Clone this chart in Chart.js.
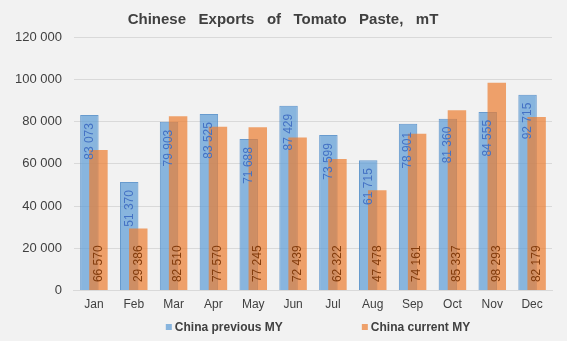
<!DOCTYPE html>
<html>
<head>
<meta charset="utf-8">
<title>Chinese Exports of Tomato Paste</title>
<script src="https://cdn.jsdelivr.net/npm/chart.js@4.4.1/dist/chart.umd.min.js"></script>
<style>
    html, body { margin: 0; padding: 0; background: #f2f2f2; }
</style>
</head>
<body>
<canvas id="exportsChart" width="567" height="341"></canvas>
<script>
// Data
const months = ['Jan', 'Feb', 'Mar', 'Apr', 'May', 'Jun', 'Jul', 'Aug', 'Sep', 'Oct', 'Nov', 'Dec'];
const previousMY = [83073, 51370, 79903, 83525, 71688, 87429, 73599, 61715, 78901, 81360, 84555, 92715];
const currentMY = [66570, 29386, 82510, 77570, 77245, 72439, 62322, 47478, 74161, 85337, 98293, 82179];
const seriesNames = ['China previous MY', 'China current MY'];
const yMax = 120000;
const yStep = 20000;

const FONT = '"Liberation Sans", Arial, sans-serif';
const TEXT = '#404040';

// 83073 -> "83 073"
const fmt = v => String(v).replace(/\B(?=(\d{3})+(?!\d))/g, ' ');

const excelStyle = {
    id: 'excelStyle',
    beforeDraw(chart) {
        const ctx = chart.ctx;
        ctx.save();
        ctx.fillStyle = '#f2f2f2';
        ctx.fillRect(0, 0, chart.width, chart.height);
        ctx.restore();
    },
    // hold back the orange series so it is painted over the blue one
    beforeDatasetDraw(chart, args) {
        if (args.index === 1) return false;
    },
    afterDatasetsDraw(chart) {
        const ctx = chart.ctx;
        chart.getDatasetMeta(1).controller.draw();

        // value labels, rotated
        ctx.save();
        ctx.font = '12px ' + FONT;
        ctx.textBaseline = 'middle';
        chart.data.datasets.forEach((ds, i) => {
            chart.getDatasetMeta(i).data.forEach((bar, j) => {
                ctx.save();
                if (i === 0) {
                    ctx.translate(bar.x, bar.y + 8);
                    ctx.textAlign = 'right';
                    ctx.fillStyle = '#4472c4';
                } else {
                    ctx.translate(bar.x, bar.base - 8);
                    ctx.textAlign = 'left';
                    ctx.fillStyle = '#843c0c';
                }
                ctx.rotate(-Math.PI / 2);
                ctx.fillText(fmt(ds.data[j]), 0, 0);
                ctx.restore();
            });
        });
        ctx.restore();
    },
    afterDraw(chart) {
        // legend below the axis
        const ctx = chart.ctx;
        const area = chart.chartArea;
        ctx.save();
        ctx.font = 'bold 12px ' + FONT;
        ctx.textBaseline = 'middle';
        ctx.textAlign = 'left';
        const box = 6, gap = 3, between = 79;
        const widths = chart.data.datasets.map(ds => box + gap + ctx.measureText(ds.label).width);
        const total = widths[0] + between + widths[1];
        let x = (area.left + area.right) / 2 + 5 - total / 2;
        const y = 327.5;
        chart.data.datasets.forEach((ds, i) => {
            ctx.fillStyle = ds.backgroundColor;
            ctx.fillRect(x, y - box / 2 - 0.5, box, box);
            ctx.fillStyle = TEXT;
            ctx.fillText(ds.label, x + box + gap, y);
            x += widths[i] + between;
        });
        ctx.restore();
    }
};

new Chart(document.getElementById('exportsChart'), {
    type: 'bar',
    data: {
        labels: months,
        datasets: [{
            label: seriesNames[0],
            data: previousMY,
            backgroundColor: 'rgba(91, 155, 213, 0.7)',
            borderColor: 'rgba(80, 140, 200, 0.85)',
            borderWidth: 1,
            categoryPercentage: 0.4545,
            barPercentage: 2.04
        }, {
            label: seriesNames[1],
            data: currentMY,
            backgroundColor: 'rgba(237, 125, 49, 0.7)',
            borderWidth: 0,
            categoryPercentage: 0.4545,
            barPercentage: 2.04
        }]
    },
    options: {
        responsive: false,
        animation: false,
        layout: { padding: { left: 14, right: 15, top: 0, bottom: 22 } },
        plugins: {
            legend: { display: false },
            tooltip: { enabled: false },
            title: {
                display: true,
                text: 'Chinese   Exports   of   Tomato   Paste,   mT',
                color: TEXT,
                font: { family: FONT, size: 15, weight: 'bold' },
                padding: { top: 11, bottom: 8 }
            }
        },
        scales: {
            x: {
                grid: { display: false, drawTicks: false },
                border: { display: true, color: '#d9d9d9' },
                ticks: { color: TEXT, font: { family: FONT, size: 12 }, padding: 7 }
            },
            y: {
                min: 0,
                max: yMax,
                grid: { color: '#d9d9d9', drawTicks: false },
                border: { display: false },
                // labels sit tight to the left edge, like the original
                afterFit(scale) { scale.width -= 11; },
                ticks: {
                    stepSize: yStep,
                    color: TEXT,
                    font: { family: FONT, size: 13 },
                    padding: 12,
                    callback: v => fmt(v)
                }
            }
        }
    },
    plugins: [excelStyle]
});
</script>
</body>
</html>
